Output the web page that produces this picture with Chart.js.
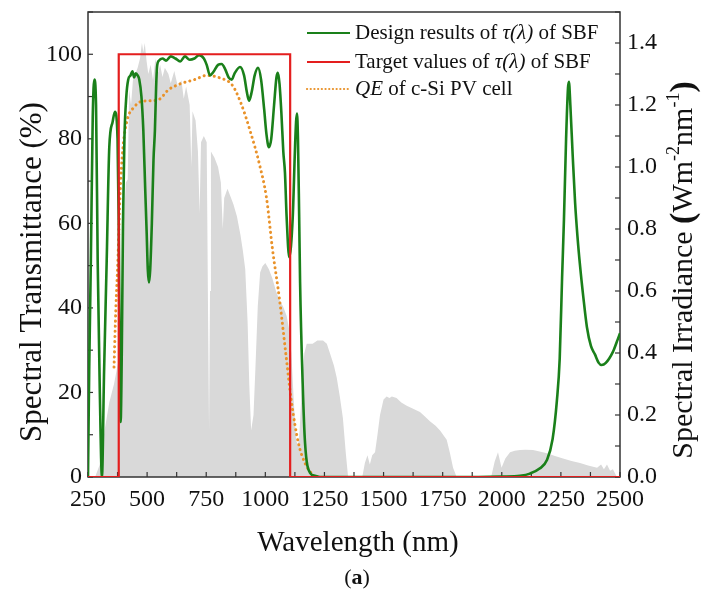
<!DOCTYPE html>
<html><head><meta charset="utf-8">
<script src="https://cdn.jsdelivr.net/npm/chart.js@4/dist/chart.umd.min.js"></script>
<style>html,body{margin:0;padding:0;background:#fff;}#wrap{width:705px;height:595px;}</style>
</head><body><div id="wrap"><canvas id="c" width="705" height="595"></canvas></div>
<script>
// ---- tick labels ----
const wlLabels = ['250','500','750','1000','1250','1500','1750','2000','2250','2500'];
const tLabels = ['0','20','40','60','80','100'];
const irrLabels = ['0.0','0.2','0.4','0.6','0.8','1.0','1.2','1.4'];

// ---- target transmittance of SBF (%) ----
const targetWl = [250, 380, 380, 1105, 1105, 2500];
const targetVal = [0, 0, 100, 100, 0, 0];

// ---- design results of tau(lambda) of SBF (%) ----
const designWl = [250,255,262,270,277,284,291,300,309,318,329,340,354,364,375,380,384,388,393,398,404,412,420,430,438,445,452,460,467,476,484,492,498,503,508,513,520,527,533,538,542,550,565,580,600,620,640,660,680,700,720,740,752,766,780,800,815,830,845,858,870,893,910,922,931,942,955,969,982,995,1005,1015,1025,1037,1047,1053,1060,1068,1076,1083,1090,1101,1116,1125,1130,1134,1138,1143,1147,1158,1168,1189,1210,1231,1500,1900,2000,2077,2119,2160,2191,2215,2233,2245,2255,2263,2272,2280,2284,2290,2300,2310,2320,2331,2345,2360,2377,2394,2410,2422,2440,2470,2490,2500];
const designVal = [0,25,51,85,94,88,51,20,0,25,51,78,84,86.4,80,60,30,13,30,60,80,90,94,95,96,94.5,95.5,95,94,90,82,68,58,49,46,49,60,75,82,92,97,98.5,99,98.5,99.5,99,98.3,99.5,98.7,99,99.8,99,97.5,95,95.8,97.5,97.7,96.5,94.5,94,95.5,97,95,91,89,91,95,96.8,94,87,81,78,80,88,94.5,95.6,93,86,77,72,61.6,52,61.6,77,84,86,80,62,46,22,8,1,0.3,0,0,0,0.1,0.3,0.8,2,4,9,18,28,47,61,80,92,93.5,88,76,65,57,50,42.5,35.5,31,29,27,26.5,27,29.6,32.5,34];

// ---- QE of c-Si PV cell (%) ----
const qeWl = [360,368,377,385,398,416,445,474,510,550,590,640,700,752,808,860,895,935,975,1005,1030,1060,1085,1110,1140,1170,1200];
const qeVal = [26,40,52,66,78,84.5,87.5,88.8,89,89.3,91.6,93,94,95,94.4,92.7,88.7,82,74,66,54,42,30,18,8,3,0.5];

// ---- solar spectral irradiance (W m-2 nm-1) ----
const irrWl = [250,280,300,320,340,360,380,390,400,410,418,424,432,440,450,460,470,478,484,490,498,505,515,525,535,545,555,565,575,590,600,615,630,645,655,665,680,687,692,705,715,722,728,740,752,758,762,766,770,785,800,812,820,826,840,855,865,880,895,905,915,925,932,940,950,958,968,978,988,1000,1015,1030,1045,1060,1075,1090,1100,1110,1120,1130,1138,1145,1155,1165,1175,1200,1220,1244,1260,1273,1290,1302,1315,1328,1340,1350,1410,1421,1432,1442,1452,1464,1475,1485,1500,1513,1525,1535,1555,1575,1598,1625,1654,1675,1696,1720,1739,1767,1780,1794,1809,1955,1970,1984,1999,2015,2035,2055,2077,2100,2132,2160,2191,2225,2259,2295,2331,2365,2403,2420,2432,2445,2458,2470,2487,2500];
const irrVal = [0,0,0.04,0.15,0.24,0.3,0.38,0.5,0.8,0.95,0.96,1.25,1.2,1.28,1.3,1.32,1.35,1.4,1.37,1.4,1.34,1.3,1.33,1.28,1.35,1.3,1.33,1.29,1.32,1.3,1.27,1.31,1.26,1.28,1.22,1.26,1.2,1.0,1.18,1.15,1.05,0.85,1.08,1.1,1.08,0.5,0.15,0.6,1.05,1.03,1.0,0.95,0.8,0.9,0.93,0.9,0.88,0.84,0.78,0.73,0.67,0.5,0.3,0.15,0.2,0.35,0.55,0.66,0.68,0.69,0.67,0.64,0.6,0.57,0.55,0.52,0.48,0.4,0.25,0.12,0.1,0.15,0.3,0.4,0.43,0.43,0.44,0.44,0.43,0.4,0.36,0.32,0.26,0.19,0.08,0,0,0.045,0.07,0.04,0.07,0.08,0.14,0.2,0.25,0.26,0.255,0.26,0.255,0.24,0.23,0.22,0.21,0.195,0.18,0.165,0.15,0.12,0.08,0.03,0,0,0.05,0.08,0.03,0.06,0.08,0.085,0.087,0.088,0.087,0.082,0.077,0.068,0.06,0.052,0.045,0.037,0.03,0.04,0.025,0.04,0.02,0.025,0,0];

const pts = (xs, ys) => xs.map((x, i) => ({x, y: ys[i]}));

const GREEN = 'rgb(26,128,26)', RED = 'rgb(228,30,30)', ORANGE = 'rgb(233,146,42)', GRAY = 'rgb(217,217,217)';
const SERIF = '"Liberation Serif", "Times New Roman", serif';

function drawRich(ctx, segs, cx, cy, rot, align) {
  ctx.save();
  ctx.translate(cx, cy);
  if (rot) ctx.rotate(rot);
  let total = 0;
  segs.forEach(s => { ctx.font = s.font; s.w = ctx.measureText(s.t).width; total += s.w; });
  let x = align === 'left' ? 0 : -total / 2;
  ctx.textBaseline = 'middle';
  ctx.textAlign = 'left';
  segs.forEach(s => { ctx.font = s.font; ctx.fillStyle = s.color || '#111'; ctx.fillText(s.t, x, s.dy || 0); x += s.w; });
  ctx.restore();
}

const framePlugin = {
  id: 'frameTicks',
  afterDatasetDraw(chart, args) {
    if (args.index !== 3) return;
    const {ctx, chartArea: a, scales} = chart;
    ctx.save();
    ctx.strokeStyle = '#333';
    ctx.lineWidth = 1.5;
    ctx.strokeRect(a.left, a.top, a.right - a.left, a.bottom - a.top);
    ctx.lineWidth = 1.2;
    const L = 5;
    scales.x.ticks.forEach(t => { const p = scales.x.getPixelForValue(t.value); ctx.beginPath(); ctx.moveTo(p, a.bottom); ctx.lineTo(p, a.bottom - L); ctx.stroke(); });
    scales.y.ticks.forEach(t => { const p = scales.y.getPixelForValue(t.value); ctx.beginPath(); ctx.moveTo(a.left, p); ctx.lineTo(a.left + L, p); ctx.stroke(); });
    scales.y2.ticks.forEach(t => { const p = scales.y2.getPixelForValue(t.value); ctx.beginPath(); ctx.moveTo(a.right, p); ctx.lineTo(a.right - L, p); ctx.stroke(); });
    ctx.restore();
  },
  afterDraw(chart) {
    const {ctx} = chart;
    const ds = chart.data.datasets;
    drawRich(ctx, [{t: 'Spectral Transmittance (%)', font: '31px ' + SERIF}], 33, 272, -Math.PI / 2);
    drawRich(ctx, [
      {t: 'Spectral Irradiance ', font: '30px ' + SERIF},
      {t: '(', font: 'bold 34px ' + SERIF},
      {t: 'Wm', font: '30px ' + SERIF},
      {t: '-2', font: '18px ' + SERIF, dy: -10},
      {t: 'nm', font: '30px ' + SERIF},
      {t: '-1', font: '18px ' + SERIF, dy: -10},
      {t: ')', font: 'bold 34px ' + SERIF}
    ], 684, 270, -Math.PI / 2);
    drawRich(ctx, [{t: 'Wavelength (nm)', font: '29px ' + SERIF}], 358, 543, 0);
    drawRich(ctx, [{t: '(', font: '22px ' + SERIF}, {t: 'a', font: 'bold 22px ' + SERIF}, {t: ')', font: '22px ' + SERIF}], 357, 578, 0);
    const rows = [
      {ds: ds[1], y: 33, segs: [{t: 'Design results of ', font: '21px ' + SERIF}, {t: 'τ(λ)', font: 'italic 21px ' + SERIF}, {t: ' of SBF', font: '21px ' + SERIF}]},
      {ds: ds[0], y: 62, segs: [{t: 'Target values of ', font: '21px ' + SERIF}, {t: 'τ(λ)', font: 'italic 21px ' + SERIF}, {t: ' of SBF', font: '21px ' + SERIF}]},
      {ds: ds[2], y: 89, segs: [{t: 'QE', font: 'italic 21px ' + SERIF}, {t: ' of c-Si PV cell', font: '21px ' + SERIF}]}
    ];
    rows.forEach(r => {
      ctx.save();
      ctx.strokeStyle = r.ds.borderColor;
      ctx.lineWidth = 2.2;
      if (r.ds.borderDash) { ctx.setLineDash([0.1, 3.6]); ctx.lineCap = 'round'; }
      ctx.beginPath(); ctx.moveTo(307, r.y); ctx.lineTo(350, r.y); ctx.stroke();
      ctx.restore();
      drawRich(ctx, r.segs, 355, r.y, 0, 'left');
    });
  }
};

const tickFont = {family: SERIF, size: 24};
new Chart(document.getElementById('c'), {
  type: 'line',
  data: {
    datasets: [
      {label: 'Target values of τ(λ) of SBF', data: pts(targetWl, targetVal), yAxisID: 'y', borderColor: RED, borderWidth: 2.2, pointRadius: 0, tension: 0, fill: false},
      {label: 'Design results of τ(λ) of SBF', data: pts(designWl, designVal), yAxisID: 'y', borderColor: GREEN, borderWidth: 2.6, pointRadius: 0, cubicInterpolationMode: 'monotone', fill: false},
      {label: 'QE of c-Si PV cell', data: pts(qeWl, qeVal), yAxisID: 'y', borderColor: ORANGE, borderWidth: 3, borderDash: [0.1, 5], borderCapStyle: 'round', pointRadius: 0, cubicInterpolationMode: 'monotone', fill: false},
      {label: 'Spectral irradiance', data: pts(irrWl, irrVal), yAxisID: 'y2', borderWidth: 0, borderColor: GRAY, backgroundColor: GRAY, pointRadius: 0, tension: 0, fill: 'origin'}
    ]
  },
  options: {
    responsive: false,
    animation: false,
    devicePixelRatio: 1,
    layout: {padding: {top: 12, left: 0, right: 0, bottom: 0}},
    plugins: {legend: {display: false}, tooltip: {enabled: false}},
    scales: {
      x: {
        type: 'linear', min: 250, max: 2500,
        afterFit: s => { s.height = 118; s.paddingLeft = 0; s.paddingRight = 0; },
        grid: {drawOnChartArea: false, drawTicks: false},
        border: {display: false},
        ticks: {stepSize: 125, autoSkip: false, maxRotation: 0, padding: 8, color: '#111', font: tickFont,
          callback: v => { const i = (v - 250) / 250; return Number.isInteger(i) ? wlLabels[i] : ''; }}
      },
      y: {
        position: 'left', min: 0, max: 110,
        afterFit: s => { s.width = 88; s.paddingTop = 0; s.paddingBottom = 0; },
        grid: {drawOnChartArea: false, drawTicks: false},
        border: {display: false},
        ticks: {stepSize: 10, autoSkip: false, padding: 6, color: '#111', font: tickFont,
          callback: v => { const i = Math.round(v) / 20; return (Number.isInteger(i) && i < tLabels.length) ? tLabels[i] : ''; }}
      },
      y2: {
        position: 'right', min: 0, max: 1.5,
        afterFit: s => { s.width = 85; s.paddingTop = 0; s.paddingBottom = 0; },
        grid: {drawOnChartArea: false, drawTicks: false},
        border: {display: false},
        ticks: {stepSize: 0.1, autoSkip: false, padding: 7, color: '#111', font: tickFont,
          callback: v => { const k = Math.round(v * 10); return (k % 2 === 0 && k / 2 < irrLabels.length) ? irrLabels[k / 2] : ''; }}
      }
    }
  },
  plugins: [framePlugin]
});
</script></body></html>
